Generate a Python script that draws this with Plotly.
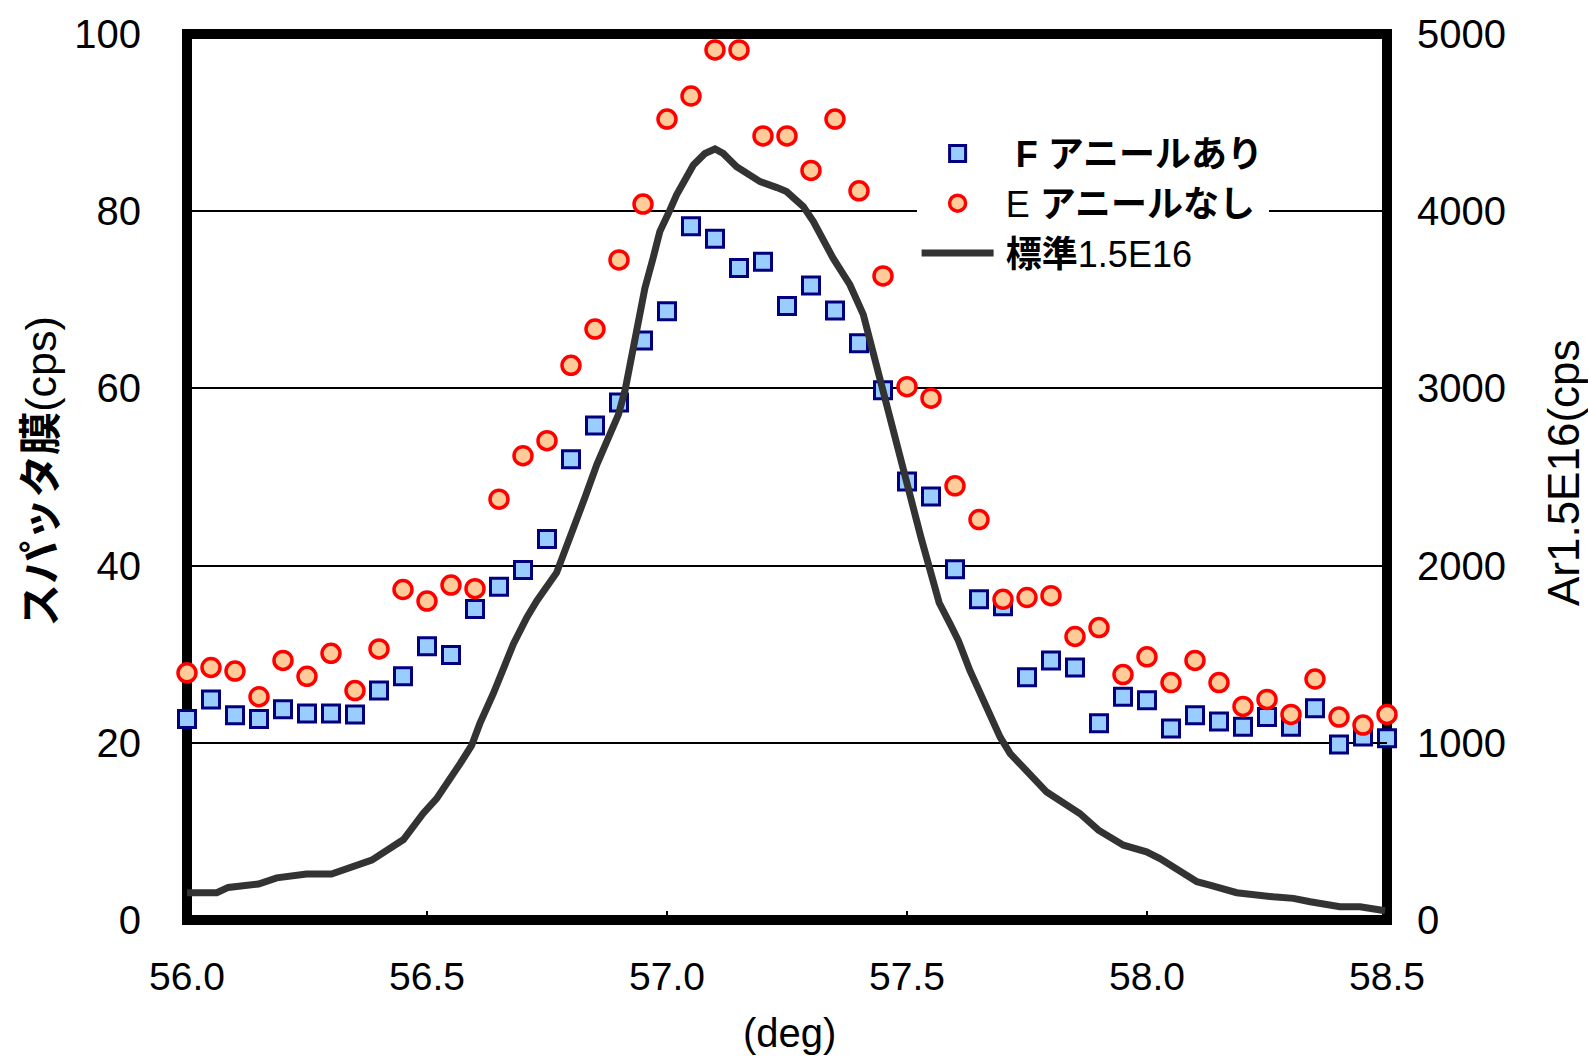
import plotly.graph_objects as go

angle = [56.00, 56.05, 56.10, 56.15, 56.20, 56.25, 56.30, 56.35, 56.40, 56.45,
         56.50, 56.55, 56.60, 56.65, 56.70, 56.75, 56.80, 56.85, 56.90, 56.95,
         57.00, 57.05, 57.10, 57.15, 57.20, 57.25, 57.30, 57.35, 57.40, 57.45,
         57.50, 57.55, 57.60, 57.65, 57.70, 57.75, 57.80, 57.85, 57.90, 57.95,
         58.00, 58.05, 58.10, 58.15, 58.20, 58.25, 58.30, 58.35, 58.40, 58.45,
         58.50]

f_anneal = [22.7, 24.9, 23.1, 22.7, 23.8, 23.3, 23.3, 23.2, 25.9, 27.5,
            30.9, 29.9, 35.1, 37.6, 39.5, 43.0, 52.0, 55.8, 58.4, 65.4,
            68.7, 78.3, 76.9, 73.6, 74.3, 69.3, 71.6, 68.8, 65.1, 59.8,
            49.5, 47.8, 39.6, 36.2, 35.4, 27.4, 29.3, 28.5, 22.2, 25.2,
            24.8, 21.6, 23.1, 22.4, 21.8, 22.9, 21.8, 23.9, 19.8, 20.7,
            20.5]

e_no_anneal = [27.9, 28.5, 28.1, 25.2, 29.3, 27.5, 30.1, 25.9, 30.6, 37.3,
               36.0, 37.8, 37.4, 47.5, 52.4, 54.1, 62.6, 66.7, 74.5, 80.8,
               90.4, 93.0, 98.2, 98.2, 88.5, 88.5, 84.6, 90.4, 82.3, 72.7,
               60.2, 58.9, 49.0, 45.2, 36.2, 36.4, 36.6, 32.0, 33.0, 27.7,
               29.7, 26.8, 29.3, 26.8, 24.1, 24.9, 23.2, 27.2, 22.9, 22.0,
               23.2]

std_x = [56.000, 56.062, 56.086, 56.149, 56.187, 56.249, 56.301, 56.329, 56.385, 56.451,
         56.492, 56.520, 56.558, 56.569, 56.593, 56.610, 56.638, 56.680, 56.708, 56.729,
         56.770, 56.805, 56.829, 56.854, 56.878, 56.899, 56.913, 56.926, 56.940, 56.954,
         56.971, 56.985, 57.003, 57.020, 57.055, 57.079, 57.100, 57.117, 57.145, 57.194,
         57.229, 57.249, 57.284, 57.305, 57.346, 57.381, 57.409, 57.428, 57.448, 57.472,
         57.487, 57.507, 57.529, 57.549, 57.567, 57.590, 57.607, 57.631, 57.652, 57.673,
         57.694, 57.715, 57.749, 57.791, 57.860, 57.899, 57.951, 57.999, 58.027, 58.069,
         58.104, 58.131, 58.187, 58.263, 58.305, 58.340, 58.402, 58.444, 58.496]
std_y = [154, 154, 184, 203, 238, 259, 259, 285, 338, 454,
         601, 685, 826, 882, 985, 1108, 1277, 1558, 1708, 1802,
         1960, 2196, 2384, 2572, 2731, 2853, 2994, 3191, 3397, 3566,
         3735, 3885, 3988, 4092, 4261, 4326, 4351, 4326, 4251, 4167,
         4133, 4111, 4026, 3941, 3735, 3585, 3416, 3210, 3010, 2750,
         2590, 2390, 2160, 1960, 1790, 1670, 1577, 1408, 1278, 1164,
         1032, 939, 845, 722, 601, 507, 422, 385, 347, 272,
         216, 197, 154, 131, 122, 103, 75, 75, 52]

x_ticks = [56.0, 56.5, 57.0, 57.5, 58.0, 58.5]
x_ticktext = ["56.0", "56.5", "57.0", "57.5", "58.0", "58.5"]
y_ticks = [0, 20, 40, 60, 80, 100]
y2_ticks = [0, 1000, 2000, 3000, 4000, 5000]

FONT = "Liberation Sans, Arial, Noto Sans CJK JP"

fig = go.Figure()
fig.add_trace(go.Scatter(
    x=angle, y=f_anneal, mode="markers", name="\u00a0\u2009<b>F アニールあり</b>",
    legendgroup="f", cliponaxis=False,
    marker=dict(symbol="square", size=17, color="#99CCFF",
                line=dict(color="#000080", width=3))))
fig.add_trace(go.Scatter(
    x=angle, y=e_no_anneal, mode="markers", name="\u2009E <b>アニールなし</b>",
    legendgroup="e", cliponaxis=False,
    marker=dict(symbol="circle", size=18, color="#FFCC99",
                line=dict(color="#FF0000", width=3.5))))
fig.add_trace(go.Scatter(
    x=std_x, y=std_y, mode="lines", name="\u2009<b>標準</b>1.5E16",
    legendgroup="s", yaxis="y2", cliponaxis=False,
    line=dict(color="#333333", width=7)))

fig.update_layout(
    width=1588, height=1058,
    margin=dict(l=187, r=201, t=32, b=138, pad=0),
    paper_bgcolor="white", plot_bgcolor="white",
    font=dict(family=FONT, color="black", size=36),
    showlegend=True,
    legend=dict(
        x=0.608, y=0.899, xanchor="left", yanchor="top",
        bgcolor="white", borderwidth=0,
        font=dict(family=FONT, size=36, color="black"),
        itemwidth=72, tracegroupgap=4, traceorder="normal",
    ),
    xaxis=dict(
        range=[56, 58.5], tickvals=x_ticks, ticktext=x_ticktext,
        ticks="inside", ticklen=9, tickwidth=2, tickcolor="black",
        showgrid=False, zeroline=False, showline=False,
        tickfont=dict(family=FONT, size=39), ticklabelstandoff=30,
    ),
    yaxis=dict(
        range=[0, 100], tickvals=y_ticks,
        ticks="inside", ticklen=10, tickwidth=2, tickcolor="black",
        showgrid=True, gridcolor="black", gridwidth=1.5,
        zeroline=False, showline=False,
        tickfont=dict(family=FONT, size=40), ticklabelstandoff=45,
    ),
    yaxis2=dict(
        range=[0, 5000], tickvals=y2_ticks, overlaying="y", side="right",
        ticks="inside", ticklen=10, tickwidth=2, tickcolor="black",
        showgrid=False, zeroline=False, showline=False,
        tickfont=dict(family=FONT, size=40), ticklabelstandoff=29,
    ),
    shapes=[dict(type="rect", xref="paper", yref="paper", x0=0, x1=1, y0=0, y1=1,
                 line=dict(color="black", width=10), layer="between")],
    annotations=[
        dict(text="<b>スパッタ膜</b>(cps)", xref="paper", yref="paper",
             x=-0.1217, y=0.507, textangle=-90, showarrow=False,
             xanchor="center", yanchor="middle",
             font=dict(family=FONT, size=43, color="black")),
        dict(text="Ar1.5E16(cps", xref="paper", yref="paper",
             x=1.1467, y=0.5045, textangle=-90, showarrow=False,
             xanchor="center", yanchor="middle",
             font=dict(family=FONT, size=44, color="black")),
        dict(text="(deg)", xref="paper", yref="paper",
             x=0.5017, y=-0.127, showarrow=False,
             xanchor="center", yanchor="middle",
             font=dict(family=FONT, size=40, color="black")),
    ],
)

fig.write_html("out.html")
